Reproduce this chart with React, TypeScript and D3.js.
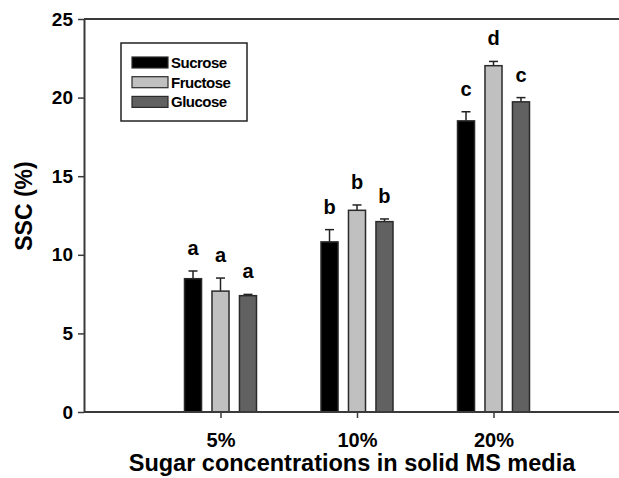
import React, { useEffect, useRef } from 'react';
import * as d3 from 'd3';

// SSC by sugar type and concentration
const concentrations = ['5%', '10%', '20%'];
const sugars = ['Sucrose', 'Fructose', 'Glucose'];
const sucrose = [8.48, 10.82, 18.52];
const fructose = [7.69, 12.83, 22.03];
const glucose = [7.4, 12.11, 19.73];
const sucroseErr = [0.49, 0.78, 0.58];
const fructoseErr = [0.83, 0.34, 0.27];
const glucoseErr = [0.08, 0.17, 0.27];
const sucroseLetters = ['a', 'b', 'c'];
const fructoseLetters = ['a', 'b', 'd'];
const glucoseLetters = ['a', 'b', 'c'];
const yTicks = [0, 5, 10, 15, 20, 25];

const colors = ['#000000', '#c0c0c0', '#616161'];
const FONT = '"Liberation Sans", Arial, Helvetica, sans-serif';

const App = () => {
  const ref = useRef<SVGSVGElement>(null);

  useEffect(() => {
    const svg = d3.select(ref.current);
    svg.selectAll('*').remove();

    const width = 619;
    const height = 478;
    const margin = { top: 19, left: 84, bottom: 66 };
    const plotBottom = height - margin.bottom;
    const axisColor = '#3a3a3a';

    const values = [sucrose, fructose, glucose];
    const errs = [sucroseErr, fructoseErr, glucoseErr];
    const letters = [sucroseLetters, fructoseLetters, glucoseLetters];

    const x = d3.scalePoint<string>().domain(concentrations).range([margin.left, margin.left + 546]).padding(1);
    const inner = d3.scaleBand<string>().domain(sugars).range([-36, 36]).paddingInner(0.38);
    const y = d3.scaleLinear().domain([0, 25]).range([plotBottom, margin.top]);

    const g = svg.append('g').style('font-family', FONT).style('font-weight', 'bold');

    // frame top line
    g.append('line')
      .attr('x1', margin.left).attr('x2', width)
      .attr('y1', y(25)).attr('y2', y(25))
      .attr('stroke', axisColor).attr('stroke-width', 2);

    // bars
    sugars.forEach((s, si) => {
      concentrations.forEach((c, ci) => {
        const v = values[si][ci];
        const e = errs[si][ci];
        const bx = (x(c) as number) + (inner(s) as number);
        const bw = inner.bandwidth();
        const cx = bx + bw / 2;
        // error bar
        g.append('line')
          .attr('x1', cx).attr('x2', cx)
          .attr('y1', y(v)).attr('y2', y(v + e))
          .attr('stroke', '#222').attr('stroke-width', 1.5);
        g.append('line')
          .attr('x1', cx - 4.5).attr('x2', cx + 4.5)
          .attr('y1', y(v + e)).attr('y2', y(v + e))
          .attr('stroke', '#222').attr('stroke-width', 1.5);
        g.append('rect')
          .attr('x', bx).attr('width', bw)
          .attr('y', y(v)).attr('height', plotBottom - y(v))
          .attr('fill', colors[si])
          .attr('stroke', '#2a2a2a').attr('stroke-width', 1.5);
        g.append('text')
          .attr('x', cx).attr('y', y(v + e) - 16)
          .attr('text-anchor', 'middle')
          .attr('font-size', 20)
          .attr('fill', '#000')
          .text(letters[si][ci]);
      });
    });

    // y axis
    const yAxis = g.append('g')
      .attr('transform', `translate(${margin.left},0)`)
      .call(d3.axisLeft(y).tickValues(yTicks).tickSize(6).tickPadding(5).tickSizeOuter(0));
    yAxis.select('.domain').attr('stroke', axisColor).attr('stroke-width', 2);
    yAxis.selectAll('.tick line').attr('stroke', axisColor).attr('stroke-width', 1.5);
    yAxis.selectAll('.tick text')
      .attr('font-size', 19).attr('font-family', FONT).attr('font-weight', 'bold').attr('fill', '#000');

    // x axis
    const xAxis = g.append('g')
      .attr('transform', `translate(0,${plotBottom})`)
      .call(d3.axisBottom(x).tickSize(6).tickPadding(15).tickSizeOuter(0));
    xAxis.select('.domain').remove();
    xAxis.append('line')
      .attr('x1', margin.left).attr('x2', width)
      .attr('stroke', axisColor).attr('stroke-width', 2);
    xAxis.selectAll('.tick line').attr('stroke', axisColor).attr('stroke-width', 1.5);
    xAxis.selectAll('.tick text')
      .attr('font-size', 20).attr('font-family', FONT).attr('font-weight', 'bold').attr('fill', '#000');

    // axis titles
    g.append('text')
      .attr('transform', `translate(32,206) rotate(-90)`)
      .attr('text-anchor', 'middle')
      .attr('font-size', 23)
      .text('SSC (%)');
    g.append('text')
      .attr('x', 352).attr('y', 471)
      .attr('text-anchor', 'middle')
      .attr('font-size', 23.5)
      .text('Sugar concentrations in solid MS media');

    // legend
    const lg = g.append('g').attr('transform', 'translate(121,43)');
    lg.append('rect')
      .attr('width', 126).attr('height', 78)
      .attr('fill', '#fff').attr('stroke', '#222').attr('stroke-width', 1.5);
    sugars.forEach((s, i) => {
      lg.append('rect')
        .attr('x', 11).attr('y', 14 + i * 19.7)
        .attr('width', 36).attr('height', 11)
        .attr('fill', colors[i]).attr('stroke', '#2a2a2a').attr('stroke-width', 1.2);
      lg.append('text')
        .attr('x', 50).attr('y', 25 + i * 19.7)
        .attr('font-size', 15)
        .attr('letter-spacing', -0.5)
        .text(s);
    });
  }, []);

  return (
    <svg ref={ref} width={619} height={478} style={{ position: 'absolute', left: 0, top: 0, background: '#fff' }} />
  );
};

export default App;
